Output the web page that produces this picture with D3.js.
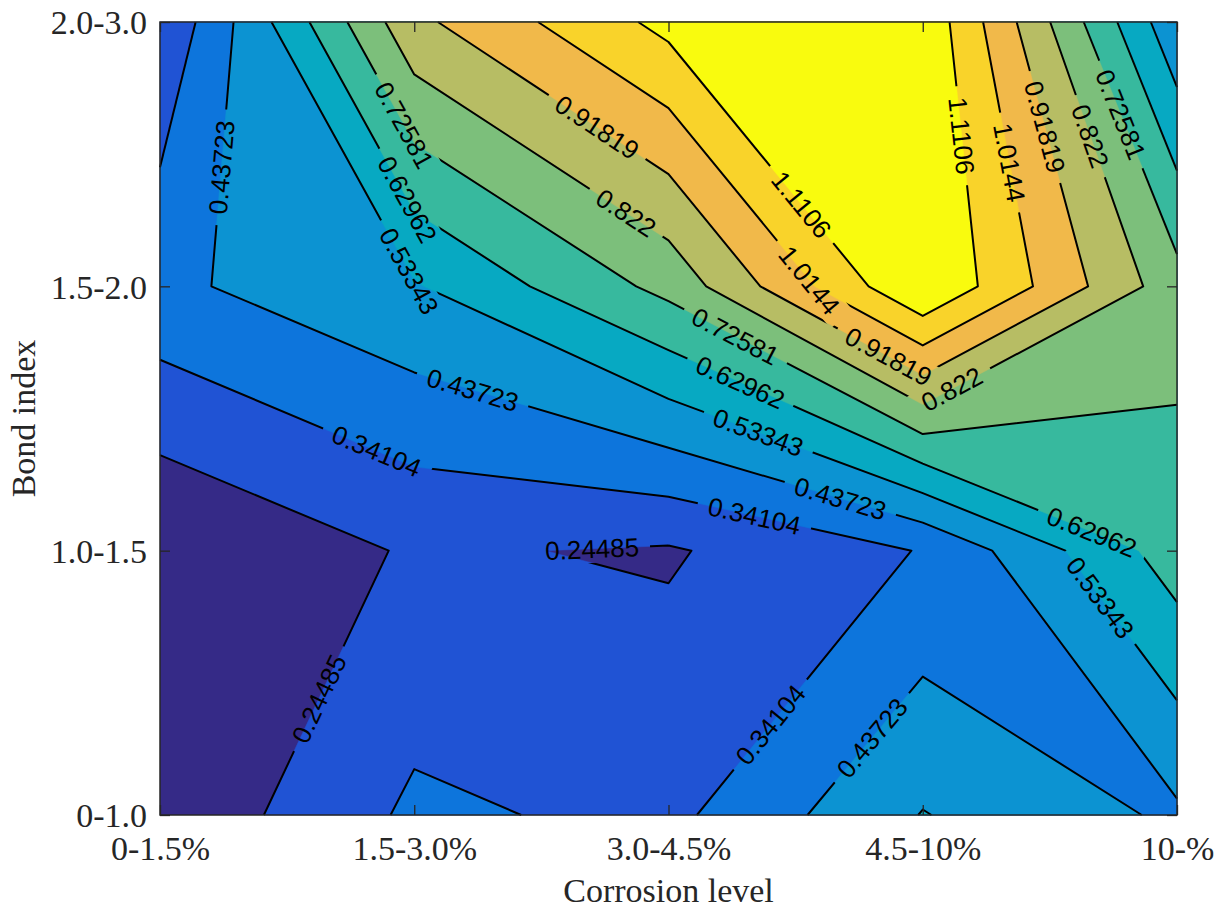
<!DOCTYPE html>
<html>
<head>
<meta charset="utf-8">
<script src="https://cdn.jsdelivr.net/npm/d3@7"></script>
<style>
  body { margin: 0; background: #fff; }
  .tick text { font-family: 'Liberation Serif', 'Times New Roman', serif; font-size: 34px; fill: #262626; }
  .tick line { stroke: #262626; stroke-width: 1.3; }
</style>
</head>
<body>
<svg id="chart" width="1225" height="907"></svg>
<script>
const corrosionLevels = ['0-1.5%', '1.5-3.0%', '3.0-4.5%', '4.5-10%', '10-%'];
const bondIndex = ['0-1.0', '1.0-1.5', '1.5-2.0', '2.0-3.0'];

// one row per bond index class (bottom to top), one value per corrosion level
const row0 = [0.166, 0.359, 0.3163, 0.5374, 0.4211];
const row1 = [0.14866, 0.2556, 0.2348, 0.346, 0.68];
const row2 = [0.415, 0.525, 0.755, 1.2068, 0.763];
const row3 = [0.2507, 0.8955, 1.1397, 1.1875, 0.4582];

const levels = [0.24485, 0.34104, 0.43723, 0.53343, 0.62962, 0.72581, 0.822, 0.91819, 1.0144, 1.1106];
// parula, one colour per band (below first level ... above last level)
const bandColors = ['#352a87', '#2053d4', '#0d75dc', '#0c93d2', '#07a9c2', '#37b99e',
                    '#7cbf7b', '#b7bd64', '#f1b94a', '#f9d32a', '#f9fb0e'];

// contour labels: which level, and roughly where (grid units: column, row)
const labelLevel = [2, 5, 4, 3, 7, 6, 9, 8, 7, 6, 9, 8, 7, 6, 5, 5, 4, 3, 2, 1, 4, 3, 2, 1, 0, 0, 1, 2];
const labelCol = [0.244, 0.98, 0.983, 1.003, 1.715, 1.833, 2.513, 2.56, 2.89, 3.095, 3.146, 3.335, 3.47, 3.65,
                  3.776, 2.281, 2.281, 2.352, 2.674, 2.336, 3.662, 3.685, 1.227, 0.85, 1.7, 0.677, 2.407, 2.805];
const labelRow = [2.45, 2.62, 2.334, 2.07, 2.596, 2.278, 2.301, 2.028, 1.778, 1.646, 2.569, 2.467, 2.6, 2.565,
                  2.649, 1.843, 1.634, 1.445, 1.192, 1.124, 1.063, 0.813, 1.6, 1.373, 0.995, 0.416, 0.337, 0.288];

const width = 1225, height = 907;
const margin = { top: 22, right: 48, bottom: 92, left: 160 };
const nx = corrosionLevels.length, ny = bondIndex.length;
const grid = [row0, row1, row2, row3].flat();

const svg = d3.select('#chart');

const xCat = d3.scalePoint().domain(corrosionLevels).range([margin.left, width - margin.right]);
const yCat = d3.scalePoint().domain(bondIndex).range([height - margin.bottom, margin.top]);
const gx = d3.scaleLinear().domain([0, nx - 1]).range(xCat.range());
const gy = d3.scaleLinear().domain([0, ny - 1]).range(yCat.range());

// d3.contours puts value i at i + 0.5 and pads the border; bring it back onto the grid
const clampX = v => Math.max(0, Math.min(nx - 1, v - 0.5));
const clampY = v => Math.max(0, Math.min(ny - 1, v - 0.5));
const toGrid = p => [clampX(p[0]), clampY(p[1])];
const toPx = p => [gx(p[0]), gy(p[1])];

const contourGen = d3.contours().size([nx, ny]);
const bands = contourGen.thresholds(levels)(grid);

const path = d3.geoPath();
const mapGeom = g => ({
  type: 'MultiPolygon',
  coordinates: g.coordinates.map(poly => poly.map(ring => ring.map(p => toPx(toGrid(p)))))
});

// filled bands
svg.append('rect')
  .attr('x', margin.left).attr('y', margin.top)
  .attr('width', width - margin.left - margin.right)
  .attr('height', height - margin.top - margin.bottom)
  .attr('fill', bandColors[0]);

svg.append('g')
  .selectAll('path')
  .data(bands)
  .join('path')
  .attr('d', d => path(mapGeom(d)))
  .attr('fill', (d, i) => bandColors[i + 1])
  .attr('stroke', (d, i) => bandColors[i + 1])
  .attr('stroke-width', 0.5);

// isolines without the parts that run along the plot border
function isolines(geom) {
  const lines = [];
  const onEdge = (a, b) =>
    (a[0] === b[0] && (a[0] === 0 || a[0] === nx - 1)) ||
    (a[1] === b[1] && (a[1] === 0 || a[1] === ny - 1));
  geom.coordinates.forEach(poly => poly.forEach(ring => {
    let pts = ring.map(toGrid);
    const f = pts[0], l = pts[pts.length - 1];
    if (f[0] === l[0] && f[1] === l[1]) pts = pts.slice(0, -1);
    const n = pts.length;
    if (n < 2) return;
    const edge = pts.map((p, i) => onEdge(p, pts[(i + 1) % n]));
    if (edge.every(Boolean)) return;
    if (!edge.some(Boolean)) {
      lines.push([...pts, pts[0]].map(toPx));
      return;
    }
    const start = edge.findIndex((b, i) => b && !edge[(i + 1) % n]);
    let cur = null;
    for (let k = 1; k <= n; k++) {
      const i = (start + k) % n;
      if (!edge[i]) {
        if (!cur) cur = [pts[i]];
        cur.push(pts[(i + 1) % n]);
      } else if (cur) {
        lines.push(cur.map(toPx));
        cur = null;
      }
    }
    if (cur) lines.push(cur.map(toPx));
  }));
  return lines;
}
const isoByLevel = bands.map(isolines);

// labels, snapped onto their line and turned along it
const labelFont = 26;
const labelG = svg.append('g');
const gaps = [];
labelLevel.forEach((li, k) => {
  const p = [gx(labelCol[k]), gy(labelRow[k])];
  let best = null;
  isoByLevel[li].forEach(line => {
    for (let i = 0; i < line.length - 1; i++) {
      const a = line[i], b = line[i + 1];
      const dx = b[0] - a[0], dy = b[1] - a[1];
      const len2 = dx * dx + dy * dy;
      if (len2 < 1e-6) continue;
      let t = ((p[0] - a[0]) * dx + (p[1] - a[1]) * dy) / len2;
      t = Math.max(0, Math.min(1, t));
      const q = [a[0] + t * dx, a[1] + t * dy];
      const d2 = (q[0] - p[0]) ** 2 + (q[1] - p[1]) ** 2;
      if (!best || d2 < best.d2) best = { q, d2, dx, dy };
    }
  });
  if (!best) return;
  let angle = Math.atan2(best.dy, best.dx) * 180 / Math.PI;
  if (angle > 90) angle -= 180;
  if (angle <= -90) angle += 180;
  const t = labelG.append('text')
    .attr('transform', `translate(${best.q[0]},${best.q[1]}) rotate(${angle})`)
    .attr('text-anchor', 'middle')
    .attr('dy', '0.36em')
    .style('font-family', "'Liberation Sans', Arial, sans-serif")
    .style('font-size', labelFont + 'px')
    .attr('fill', '#000')
    .text(String(levels[li]));
  gaps.push({ x: best.q[0], y: best.q[1], angle, w: t.node().getComputedTextLength() + 22 });
});

const mask = svg.append('defs').append('mask')
  .attr('id', 'gaps')
  .attr('maskUnits', 'userSpaceOnUse')
  .attr('x', 0).attr('y', 0).attr('width', width).attr('height', height);
mask.append('rect').attr('width', width).attr('height', height).attr('fill', '#fff');
mask.selectAll('rect.gap')
  .data(gaps)
  .join('rect')
  .attr('class', 'gap')
  .attr('x', d => -d.w / 2).attr('y', -labelFont * 0.55)
  .attr('width', d => d.w).attr('height', labelFont * 1.1)
  .attr('transform', d => `translate(${d.x},${d.y}) rotate(${d.angle})`)
  .attr('fill', '#000');

const lineGen = d3.line();
svg.insert('g', () => labelG.node())
  .attr('mask', 'url(#gaps)')
  .selectAll('path')
  .data(isoByLevel.flat())
  .join('path')
  .attr('d', lineGen)
  .attr('fill', 'none')
  .attr('stroke', '#000')
  .attr('stroke-width', 2)
  .attr('stroke-linejoin', 'round');

// axes, ticks pointing inward on all four sides
svg.append('g')
  .attr('transform', `translate(0,${height - margin.bottom})`)
  .call(d3.axisBottom(xCat).tickSize(-10).tickPadding(21));
svg.append('g')
  .attr('transform', `translate(0,${margin.top})`)
  .call(d3.axisTop(xCat).tickSize(-10).tickFormat(''));
const yAxis = svg.append('g')
  .attr('transform', `translate(${margin.left},0)`)
  .call(d3.axisLeft(yCat).tickSize(-10).tickPadding(13));
svg.append('g')
  .attr('transform', `translate(${width - margin.right},0)`)
  .call(d3.axisRight(yCat).tickSize(-10).tickFormat(''));
svg.selectAll('.domain').remove();
yAxis.selectAll('text').attr('dy', '0.35em');

svg.append('rect')
  .attr('x', margin.left).attr('y', margin.top)
  .attr('width', width - margin.left - margin.right)
  .attr('height', height - margin.top - margin.bottom)
  .attr('fill', 'none')
  .attr('stroke', '#262626')
  .attr('stroke-width', 1.5);

svg.append('text')
  .attr('x', (margin.left + width - margin.right) / 2)
  .attr('y', height - 5)
  .attr('text-anchor', 'middle')
  .style('font-family', "'Liberation Serif', 'Times New Roman', serif")
  .style('font-size', '34px')
  .attr('fill', '#262626')
  .text('Corrosion level');

svg.append('text')
  .attr('transform', `translate(35,${(margin.top + height - margin.bottom) / 2}) rotate(-90)`)
  .attr('text-anchor', 'middle')
  .style('font-family', "'Liberation Serif', 'Times New Roman', serif")
  .style('font-size', '34px')
  .attr('fill', '#262626')
  .text('Bond index');
</script>
</body>
</html>
